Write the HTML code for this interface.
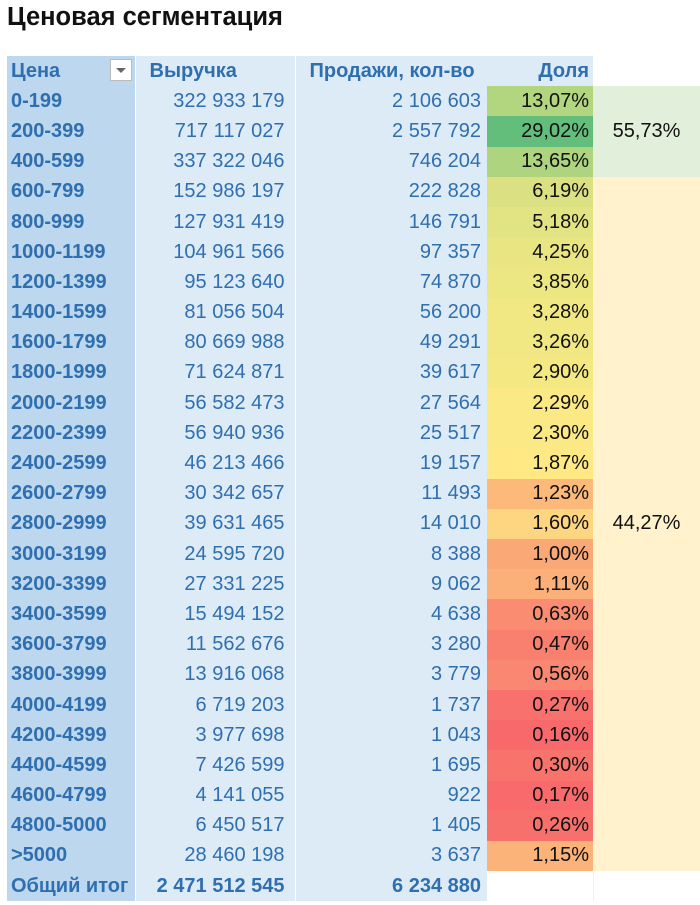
<!DOCTYPE html>
<html><head><meta charset="utf-8">
<style>
body{margin:0;width:700px;height:905px;background:#fff;overflow:hidden;font-family:"Liberation Sans",sans-serif;}
h1{position:absolute;left:7px;top:3px;margin:0;font-size:25.5px;font-weight:bold;color:#111;}
table{position:absolute;left:7px;top:56px;border-collapse:collapse;table-layout:fixed;}
td{height:30.2px;padding:0 6px;font-size:20px;color:#2f6fb0;white-space:nowrap;box-sizing:border-box;}
td.c1{width:128px;background:#bdd7ee;font-weight:bold;text-align:left;padding-left:4px;border-right:1px solid #fff;}
td.c2{width:160px;background:#ddebf7;text-align:right;padding-right:10px;border-right:1px solid #fff;}
td.c3{width:192px;background:#ddebf7;text-align:right;padding-right:6px;}
td.c4{width:106px;text-align:right;color:#111;padding-right:4px;}
td.c5{width:107px;text-align:center;color:#111;}
tr.hdr td{font-weight:bold;}
tr.tot td{font-weight:bold;}
.dd{position:absolute;left:103px;top:3px;width:22px;height:22px;background:#fff;border:1px solid #bbb;box-sizing:border-box;}
.dd:after{content:"";position:absolute;left:5px;top:8px;border-left:5px solid transparent;border-right:5px solid transparent;border-top:5px solid #666;}
</style></head><body>
<h1>Ценовая сегментация</h1>
<table><tbody id="tb">
<tr class="hdr">
<td class="c1" style="position:relative">Цена<span class="dd"></span></td>
<td class="c2" style="text-align:left;padding-left:14px">Выручка</td>
<td class="c3" style="text-align:left;padding-left:14px">Продажи, кол-во</td>
<td class="c4" style="background:#ddebf7;color:#2f6fb0">Доля</td>
<td class="c5" style="background:#fff"></td>
</tr>
</tbody></table>
<script>
const categories=["0-199","200-399","400-599","600-799","800-999","1000-1199","1200-1399","1400-1599","1600-1799","1800-1999","2000-2199","2200-2399","2400-2599","2600-2799","2800-2999","3000-3199","3200-3399","3400-3599","3600-3799","3800-3999","4000-4199","4200-4399","4400-4599","4600-4799","4800-5000",">5000"];
const revenue=[322933179,717117027,337322046,152986197,127931419,104961566,95123640,81056504,80669988,71624871,56582473,56940936,46213466,30342657,39631465,24595720,27331225,15494152,11562676,13916068,6719203,3977698,7426599,4141055,6450517,28460198];
const sales=[2106603,2557792,746204,222828,146791,97357,74870,56200,49291,39617,27564,25517,19157,11493,14010,8388,9062,4638,3280,3779,1737,1043,1695,922,1405,3637];
const share=[13.07,29.02,13.65,6.19,5.18,4.25,3.85,3.28,3.26,2.90,2.29,2.30,1.87,1.23,1.60,1.00,1.11,0.63,0.47,0.56,0.27,0.16,0.30,0.17,0.26,1.15];
const groupTotals=["55,73%","44,27%"];
const totalRevenue="2 471 512 545", totalSales="6 234 880";
function fmt(n){return String(n).replace(/\B(?=(\d{3})+(?!\d))/g,"\u00a0");}
function mix(a,b,t){return a.map((v,i)=>Math.round(v+(b[i]-v)*t));}
const mn=Math.min(...share),mx=Math.max(...share),mid=1.9;
function color(v){const R=[248,105,107],Y=[255,235,132],G=[99,190,123];let c;
 if(v<=mid)c=mix(R,Y,(v-mn)/(mid-mn));else c=mix(Y,G,Math.pow((v-mid)/(mx-mid),0.8));return `rgb(${c})`;}
const tb=document.getElementById('tb');
categories.forEach((cat,i)=>{
 const tr=document.createElement('tr');
 
 
 const c1=document.createElement('td');c1.className='c1';c1.textContent=cat;
 
 
 const c2=document.createElement('td');c2.className='c2';c2.textContent=fmt(revenue[i]);
 
 
 const c3=document.createElement('td');c3.className='c3';c3.textContent=fmt(sales[i]);
 
 
 const c4=document.createElement('td');c4.className='c4';c4.textContent=share[i].toFixed(2).replace('.',',')+'%';
 c4.style.background=color(share[i]);
 
 
 tr.append(c1,c2,c3,c4);
 if(i===0||i===3){
  const c5=document.createElement('td');c5.className='c5';
  c5.rowSpan=i===0?3:23;
  c5.style.background=i===0?'#e2efda':'#fff2cc';
  c5.textContent=i===0?groupTotals[0]:groupTotals[1];
  
  
  tr.append(c5);
 }
 tb.append(tr);
});
const tr=document.createElement('tr');tr.className='tot';


tr.innerHTML=`<td class="c1">Общий итог</td><td class="c2">${totalRevenue}</td><td class="c3">${totalSales}</td><td class="c4" style="background:#fff"></td><td class="c5" style="background:#fff;border-left:1px solid #eee"></td>`;
tb.append(tr);
</script>
</body></html>
